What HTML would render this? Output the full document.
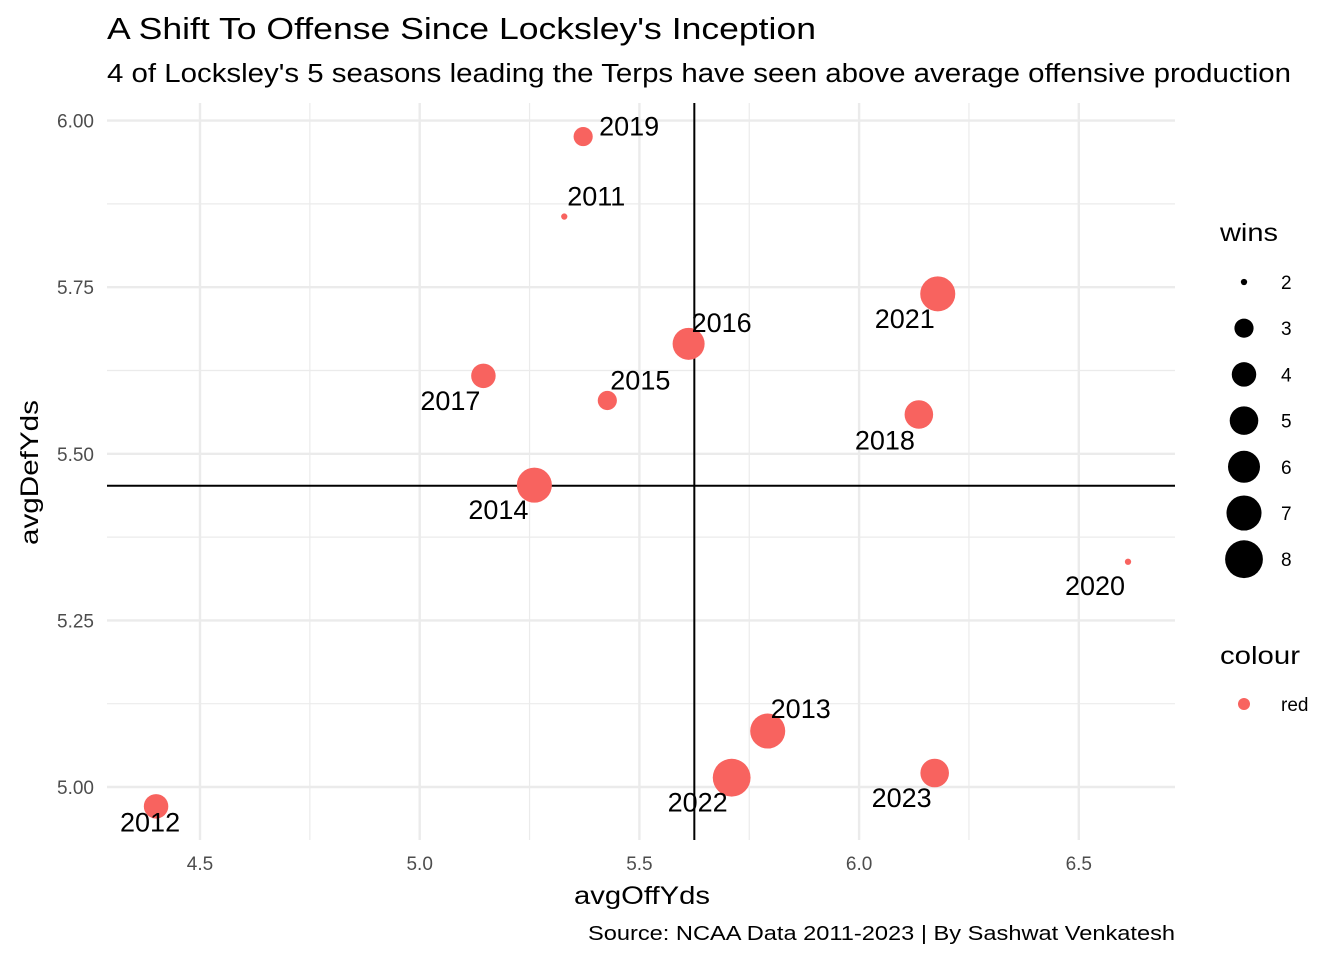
<!DOCTYPE html>
<html><head><meta charset="utf-8"><style>
html,body{margin:0;padding:0;background:#fff;}
svg{display:block;font-family:"Liberation Sans",Arial,sans-serif;}
</style></head><body>
<svg id="chart" width="1344" height="960" viewBox="0 0 1344 960">
<text x="107" y="39" font-size="31" textLength="709" lengthAdjust="spacingAndGlyphs" fill="#000">A Shift To Offense Since Locksley's Inception</text>
<text x="107" y="82" font-size="25.5" textLength="1184" lengthAdjust="spacingAndGlyphs" fill="#000">4 of Locksley's 5 seasons leading the Terps have seen above average offensive production</text>
<g id="grid"></g>
<g id="refs"></g>
<g id="points"></g>
<g id="axes"></g>
<text x="574" y="904" font-size="25" textLength="136" lengthAdjust="spacingAndGlyphs" fill="#000">avgOffYds</text>
<text transform="translate(38,545) rotate(-90)" font-size="25" textLength="145" lengthAdjust="spacingAndGlyphs" fill="#000">avgDefYds</text>
<text x="588" y="940" font-size="20" textLength="587" lengthAdjust="spacingAndGlyphs" fill="#000">Source: NCAA Data 2011-2023 | By Sashwat Venkatesh</text>
<g id="legend"></g>
</svg>
<script>
const years = ["2011","2012","2013","2014","2015","2016","2017","2018","2019","2020","2021","2022","2023"];
const offYds = [5.329,4.400,5.792,5.261,5.427,5.612,5.145,6.136,5.372,6.612,6.179,5.710,6.172];
const defYds = [5.856,4.971,5.084,5.453,5.580,5.665,5.617,5.559,5.976,5.338,5.740,5.014,5.021];
const wins = [2,4,7,7,3,6,4,5,3,2,7,8,5];
const xTicks = [4.5,5.0,5.5,6.0,6.5];
const xTickLabels = ["4.5","5.0","5.5","6.0","6.5"];
const yTicks = [5.00,5.25,5.50,5.75,6.00];
const yTickLabels = ["5.00","5.25","5.50","5.75","6.00"];
const legendWins = [2,3,4,5,6,7,8];
const meanOff = 5.625;
const meanDef = 5.452;

const NS="http://www.w3.org/2000/svg";
const X0=107,X1=1175,Y0=103,Y1=840;
const xs=v=>200+(v-4.5)*439.4;
const ys=v=>787-(v-5)*666.4;
const rs=w=>3.15*(1+5*Math.sqrt(Math.max(0,(w-2)/6)));
function mk(tag,attrs,parent,text){const e=document.createElementNS(NS,tag);for(const k in attrs)e.setAttribute(k,attrs[k]);if(text!==undefined)e.textContent=text;parent.appendChild(e);return e;}
const grid=document.getElementById('grid'),axes=document.getElementById('axes'),pts=document.getElementById('points'),refs=document.getElementById('refs'),leg=document.getElementById('legend');
for(let i=0;i<xTicks.length-1;i++){const m=(xTicks[i]+xTicks[i+1])/2;const l=mk('line',{x1:xs(m),x2:xs(m),y1:Y0,y2:Y1,stroke:'#ebebeb','stroke-width':1.2},grid);

}
[xTicks[0]-0.25,xTicks[xTicks.length-1]+0.25].forEach(m=>{if(xs(m)>X0&&xs(m)<X1){const l=mk('line',{x1:xs(m),x2:xs(m),y1:Y0,y2:Y1,stroke:'#ebebeb','stroke-width':1.2},grid);

}});
for(let i=0;i<yTicks.length-1;i++){const m=(yTicks[i]+yTicks[i+1])/2;const l=mk('line',{x1:X0,x2:X1,y1:ys(m),y2:ys(m),stroke:'#ebebeb','stroke-width':1.2},grid);

}
xTicks.forEach((t,i)=>{const l=mk('line',{x1:xs(t),x2:xs(t),y1:Y0,y2:Y1,stroke:'#ebebeb','stroke-width':2.4},grid);


const tx=mk('text',{x:xs(t),y:870,'font-size':19,'text-anchor':'middle',fill:'#4d4d4d'},axes,xTickLabels[i]);

});
yTicks.forEach((t,i)=>{const l=mk('line',{x1:X0,x2:X1,y1:ys(t),y2:ys(t),stroke:'#ebebeb','stroke-width':2.4},grid);


const tx=mk('text',{x:94,y:ys(t)+7,'font-size':19,'text-anchor':'end',fill:'#4d4d4d'},axes,yTickLabels[i]);

});
const vl=mk('line',{x1:xs(meanOff),x2:xs(meanOff),y1:Y0,y2:Y1,stroke:'#000','stroke-width':2},refs);


const hl=mk('line',{x1:X0,x2:X1,y1:ys(meanDef),y2:ys(meanDef),stroke:'#000','stroke-width':2},refs);


const labelOffsets={"2011":[32,-21],"2012":[-6,15],"2013":[33,-23],"2014":[-36,24],"2015":[33,-21],"2016":[33,-22],"2017":[-33,24],"2018":[-34,25],"2019":[46,-11],"2020":[-33,23],"2021":[-33,24],"2022":[-34,24],"2023":[-33,24]};
years.forEach((y,i)=>{const cx=xs(offYds[i]),cy=ys(defYds[i]);
const c=mk('circle',{cx:cx,cy:cy,r:rs(wins[i]),fill:'#f8635f'},pts);


const o=labelOffsets[y]||[30,-20];
const t=mk('text',{x:cx+o[0],y:cy+o[1]+10,'font-size':27,'text-anchor':'middle',fill:'#000'},pts,y);

});
const lt=mk('text',{x:1220,y:241,'font-size':25,textLength:58,lengthAdjust:'spacingAndGlyphs',fill:'#000'},leg,'wins');


legendWins.forEach((w,i)=>{const cy=282+i*46.2;
const c=mk('circle',{cx:1244,cy:cy,r:rs(w),fill:'#000'},leg);


const t=mk('text',{x:1281,y:cy+7,'font-size':19,fill:'#000'},leg,String(w));

});
const ct=mk('text',{x:1220,y:664,'font-size':25,textLength:80,lengthAdjust:'spacingAndGlyphs',fill:'#000'},leg,'colour');


const cc=mk('circle',{cx:1244,cy:704,r:6,fill:'#f8635f'},leg);


const cl=mk('text',{x:1281,y:711,'font-size':19,fill:'#000'},leg,'red');


</script>
</body></html>
